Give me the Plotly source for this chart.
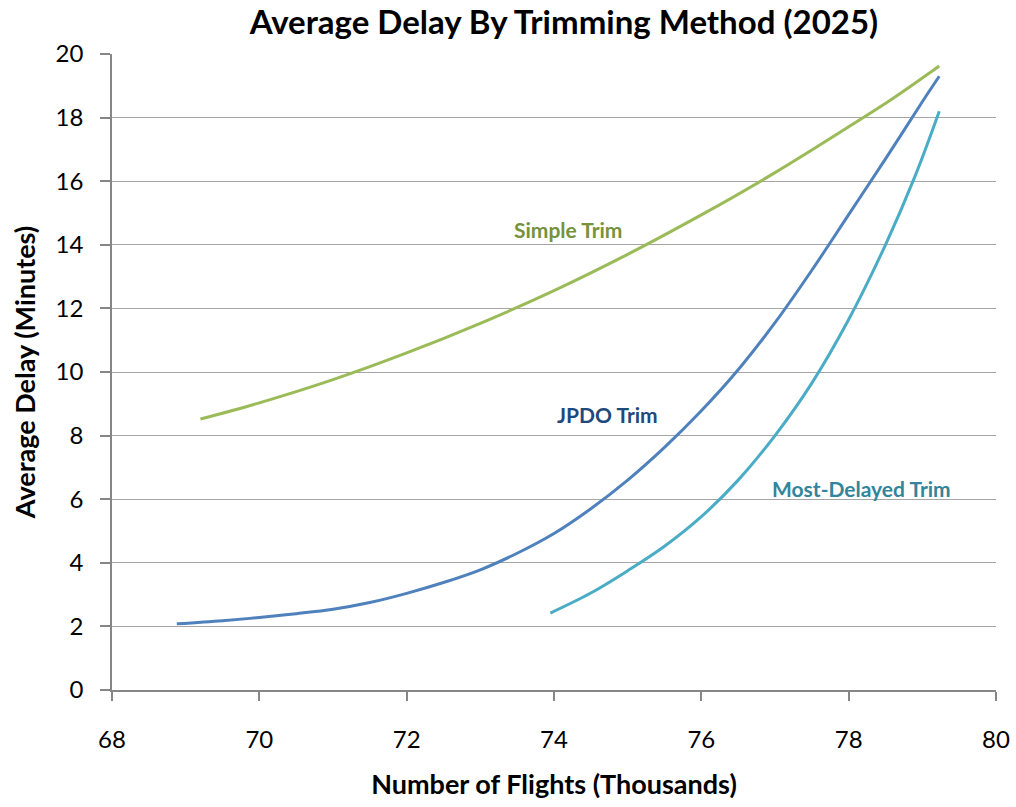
import plotly.graph_objects as go

# Data
simple_x = [69.2, 70.0, 71.0, 72.0, 73.0, 74.0, 75.0, 76.0, 77.0, 78.0, 78.6, 79.23]
simple_y = [8.52, 9.03, 9.76, 10.6, 11.53, 12.56, 13.7, 14.94, 16.27, 17.71, 18.6, 19.62]

jpdo_x = [68.88, 69.5, 70.0, 70.5, 71.0, 71.5, 72.0, 72.5, 73.0, 73.5, 74.0, 74.5, 75.0,
          75.5, 76.0, 76.5, 77.0, 77.5, 78.0, 78.5, 79.0, 79.23]
jpdo_y = [2.08, 2.18, 2.28, 2.4, 2.54, 2.75, 3.04, 3.38, 3.78, 4.3, 4.92, 5.7, 6.6,
          7.63, 8.78, 10.07, 11.55, 13.2, 14.95, 16.7, 18.5, 19.3]

most_x = [73.95, 74.5, 75.0, 75.5, 76.0, 76.5, 77.0, 77.5, 78.0, 78.5, 78.9, 79.23]
most_y = [2.42, 3.05, 3.75, 4.52, 5.45, 6.6, 8.0, 9.65, 11.65, 14.0, 16.15, 18.2]

series_names = ["Simple Trim", "JPDO Trim", "Most-Delayed Trim"]
line_colors = ["#9BBB59", "#4F81BD", "#4BACC6"]
label_colors = ["#76923C", "#1F497D", "#31859C"]
label_pos = [(74.19, 14.47), (74.73, 8.65), (78.18, 6.35)]

x_ticks = [68, 70, 72, 74, 76, 78, 80]
y_ticks = [0, 2, 4, 6, 8, 10, 12, 14, 16, 18, 20]

FONT = "Lato, 'Open Sans', sans-serif"

fig = go.Figure()
for (xs, ys), name, col in zip([(simple_x, simple_y), (jpdo_x, jpdo_y), (most_x, most_y)],
                               series_names, line_colors):
    fig.add_trace(go.Scatter(x=xs, y=ys, mode="lines", name=name,
                             line=dict(color=col, width=3, shape="spline", smoothing=1.0)))

for name, col, (lx, ly) in zip(series_names, label_colors, label_pos):
    fig.add_annotation(x=lx, y=ly, text="<b>%s</b>" % name, showarrow=False,
                       font=dict(family=FONT, size=21, color=col), xanchor="center", yanchor="middle")

fig.update_layout(
    width=1016, height=807,
    margin=dict(l=112, r=20, t=54, b=117, autoexpand=False),
    plot_bgcolor="white", paper_bgcolor="white",
    showlegend=False,
    title=dict(text="<b>Average Delay By Trimming Method (2025)</b>", x=0.555, xanchor="center",
               y=0.972, yanchor="middle", font=dict(family=FONT, size=33, color="black")),
    font=dict(family=FONT, color="black"),
)
fig.update_xaxes(range=[68, 80], tickvals=x_ticks, showgrid=False, zeroline=False,
                 showline=True, linecolor="#868686", linewidth=1.5, automargin=False,
                 ticks="outside", ticklen=9, tickcolor="#868686", tickwidth=1.5,
                 tickfont=dict(family=FONT, size=24), ticklabelstandoff=18,
                 title=dict(text="<b>Number of Flights (Thousands)</b>", standoff=24,
                            font=dict(family=FONT, size=27)))
fig.update_yaxes(range=[0, 20], tickvals=y_ticks, showgrid=True, gridcolor="#A6A6A6", gridwidth=1.3,
                 zeroline=False, showline=True, linecolor="#868686", linewidth=1.5, automargin=False,
                 ticks="outside", ticklen=10, tickcolor="#868686", tickwidth=1.5,
                 tickfont=dict(family=FONT, size=24), ticklabelstandoff=12,
                 title=dict(text="<b>Average Delay (Minutes)</b>", standoff=12,
                            font=dict(family=FONT, size=27)))

fig.write_html("out.html")
